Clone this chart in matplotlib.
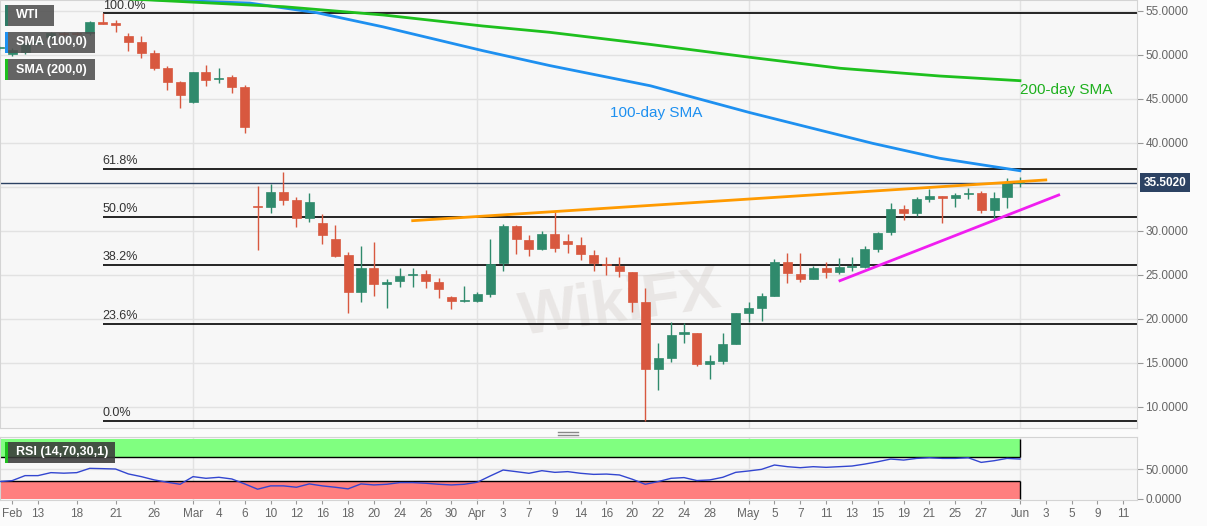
import matplotlib
matplotlib.use('Agg')
import matplotlib.pyplot as plt
import matplotlib.transforms as mtransforms
from matplotlib.patches import Rectangle
from matplotlib.lines import Line2D
import numpy as np

plt.rcParams['font.family'] = ['Liberation Sans', 'DejaVu Sans']

# daily WTI candles, Feb 10 .. Jun 1 2020 (trading-day index, Feb 13 = 0)
first_day = -3
opens = [50.75, 50.1, 50.3, 51.4, 52.0, 52.45, 52.45, 52.5, 53.8, 53.55,
         52.16, 51.5, 50.26, 48.48, 46.9, 44.7, 48.03, 47.25, 47.47, 46.4,
         32.85, 32.76, 34.4, 33.5, 31.5, 30.87, 29.07, 27.27, 23.03, 25.83,
         23.97, 24.3, 24.95, 25.08, 24.24, 22.46, 22.0, 22.08, 22.84, 26.33,
         30.6, 28.98, 27.9, 29.7, 28.86, 28.4, 27.27, 26.2, 26.02, 25.3,
         21.9, 14.28, 15.6, 18.3, 18.45, 14.9, 15.23, 17.16, 20.65, 21.2,
         22.65, 26.5, 25.08, 24.55, 25.76, 25.3, 25.9, 25.95, 27.95, 29.85,
         32.47, 32.0, 33.64, 34.0, 33.7, 34.17, 34.35, 32.4, 33.83, 35.45]
highs = [51.0, 50.8, 51.5, 51.9, 52.6, 52.6, 52.6, 53.9, 54.74, 54.0,
         52.5, 52.16, 50.57, 48.75, 47.08, 48.1, 48.86, 48.5, 47.7, 46.6,
         35.1, 35.3, 36.67, 33.9, 34.28, 31.9, 30.7, 27.65, 28.3, 28.7,
         24.5, 25.76, 25.8, 25.6, 24.6, 22.65, 23.8, 23.1, 29.06, 30.8,
         30.68, 29.6, 30.0, 32.2, 29.7, 29.26, 27.8, 27.0, 27.0, 25.3,
         23.5, 17.24, 19.6, 19.5, 18.45, 15.9, 18.37, 20.65, 21.97, 22.9,
         26.78, 27.45, 27.5, 26.05, 26.5, 26.9, 27.0, 28.3, 29.9, 33.15,
         33.0, 33.9, 34.74, 34.0, 34.35, 34.9, 34.5, 34.4, 35.99, 36.1]
lows = [50.6, 49.9, 50.1, 51.2, 51.8, 52.2, 52.2, 52.27, 53.5, 52.6,
        50.5, 49.7, 48.3, 46.0, 43.94, 44.5, 46.48, 46.8, 45.7, 41.17,
        27.8, 32.08, 32.95, 30.5, 31.06, 28.5, 27.1, 20.65, 21.9, 22.65,
        21.2, 23.67, 23.67, 23.5, 22.35, 21.1, 21.97, 21.9, 22.5, 25.5,
        27.35, 27.16, 27.8, 27.6, 27.46, 26.7, 25.5, 25.0, 24.8, 20.8,
        8.45, 11.93, 15.15, 17.3, 14.6, 13.15, 14.85, 17.16, 19.6, 19.8,
        22.65, 24.06, 24.17, 24.55, 24.7, 25.08, 25.4, 25.76, 27.65, 29.6,
        31.25, 31.75, 33.33, 30.87, 32.7, 33.6, 32.0, 31.33, 32.58, 34.97]
closes = [50.85, 50.6, 51.4, 51.6, 52.5, 52.35, 52.35, 53.8, 53.55, 53.45,
          51.5, 50.26, 48.48, 46.97, 45.4, 48.1, 47.16, 47.4, 46.4, 41.8,
          32.7, 34.4, 33.5, 31.5, 33.33, 29.55, 27.16, 23.03, 25.83, 23.94,
          24.2, 24.9, 25.1, 24.3, 23.38, 22.08, 22.1, 22.84, 26.2, 30.6,
          29.06, 27.9, 29.7, 28.1, 28.5, 27.35, 26.33, 26.1, 25.5, 21.9,
          14.28, 15.6, 18.18, 18.5, 14.9, 15.23, 17.1, 20.65, 21.2, 22.65,
          26.5, 25.2, 24.55, 25.76, 25.3, 25.87, 26.0, 27.95, 29.8, 32.47,
          32.0, 33.64, 34.0, 33.7, 34.1, 34.35, 32.4, 33.8, 35.5, 35.5]

rsi = [28.9, 30.5, 38.9, 38.9, 43.9, 43.0, 43.9, 51.1, 50.6, 50.0,
       41.7, 37.2, 31.7, 27.8, 24.4, 37.2, 34.4, 36.1, 33.3, 25.0,
       16.1, 21.7, 21.7, 19.4, 25.0, 21.7, 19.4, 16.7, 25.0, 23.3,
       24.4, 27.2, 27.2, 26.1, 24.4, 23.3, 24.4, 27.8, 38.3, 48.3,
       45.6, 42.8, 47.2, 44.4, 45.6, 42.8, 41.0, 41.5, 40.0, 32.8,
       24.4, 28.9, 34.4, 35.6, 30.6, 31.7, 36.1, 44.4, 46.7, 49.4,
       56.7, 53.9, 52.2, 53.9, 52.8, 53.9, 55.0, 58.3, 62.2, 66.7,
       65.0, 67.8, 68.9, 67.8, 67.8, 68.9, 61.1, 63.9, 67.8, 66.7]

# moving averages (position, value)
sma100_x = [0, 8.7, 16.4, 21.6, 26.7, 34.4, 39.6, 47.4, 55.1, 64.6, 69.8, 76]
sma100_y = [57.2, 56.3, 55.9, 54.8, 53.2, 50.5, 48.8, 46.5, 43.45, 39.96, 38.26, 36.85]
sma200_x = [0, 8.7, 19, 26.7, 34.4, 39.6, 47.4, 55.1, 62.1, 69.8, 76]
sma200_y = [56.9, 56.25, 55.49, 54.55, 53.3, 52.58, 51.2, 49.74, 48.49, 47.61, 47.08]

# trend lines
resist_x = [29.0, 78.0]
resist_y = [31.17, 35.8]
support_x = [62.07, 79.0]
support_y = [24.35, 34.09]

fib_labels = ['100.0%', '61.8%', '50.0%', '38.2%', '23.6%', '0.0%']
fib_levels = [54.74, 37.10, 31.62, 26.17, 19.40, 8.41]
last_price = 35.502

price_ticks = [10, 15, 20, 25, 30, 40, 45, 50, 55]
tick_pos = [-2, 0, 3, 6, 9, 12, 14, 16, 18, 20, 22, 24, 26, 28, 30, 32, 34, 36,
            38, 40, 42, 44, 46, 48, 50, 52, 55, 57, 59, 61, 63, 65, 67, 69, 71,
            73, 76, 78, 80, 82, 84]
tick_lab = ['Feb', '13', '18', '21', '26', 'Mar', '4', '6', '10', '12', '16',
            '18', '20', '24', '26', '30', 'Apr', '3', '7', '9', '14', '16', '20',
            '22', '24', '28', 'May', '5', '7', '11', '13', '15', '19', '21', '25',
            '27', 'Jun', '3', '5', '9', '11']
month_pos = [12, 34, 55, 76]

W, H = 1207, 526
fig = plt.figure(figsize=(W / 100, H / 100), dpi=100, facecolor='#fbfbfb')


def fx(px):
    return px / W


def fy(py):
    return 1 - py / H


ax = fig.add_axes([0, fy(428), fx(1137), 428 / H])
ax2 = fig.add_axes([0, fy(500), fx(1137), 63 / H], sharex=ax)
xmin, xmax = -2.94, 85.06

for a in (ax, ax2):
    a.set_facecolor('#f7f7f7')
    for s in a.spines.values():
        s.set_color('#d4d4d4')
    for m in month_pos:
        a.axvline(m, color='#e2e2e2', lw=1, zorder=0)

# ---- main panel
ax.set_xlim(xmin, xmax)
ax.set_ylim(7.61, 56.25)
for v in range(10, 60, 5):
    ax.axhline(v, color='#e2e2e2', lw=1, zorder=0)

days = np.arange(first_day, first_day + len(opens))
o = np.array(opens)
c = np.array(closes)
up = c >= o
col = np.where(up, '#2f8a6c', '#d8583f')
ax.vlines(days, lows, highs, colors=col, lw=1.0, zorder=3)
body = np.maximum(np.abs(c - o), 0.15)
ax.bar(days, body, bottom=np.minimum(o, c), width=0.7, color=col,
       edgecolor=col, lw=0.5, zorder=4)

for lab, lv in zip(fib_labels, fib_levels):
    ax.hlines(lv, 5.0, xmax, color='black', lw=1.2, zorder=2)
    ax.text(5.0, lv + 0.2, lab, fontsize=9, color='#333333', va='bottom', ha='left')

ax.plot(sma100_x, sma100_y, color='#1e90f0', lw=2, zorder=5)
ax.plot(sma200_x, sma200_y, color='#1ec01e', lw=2, zorder=5)
ax.plot(resist_x, resist_y, color='#ff9a00', lw=2, zorder=5)
ax.plot(support_x, support_y, color='#f01ef0', lw=2, zorder=5)
ax.axhline(last_price, color='#2c4263', lw=1, zorder=2)

ax.text(44.3, 43.44, '100-day SMA', color='#1e90f0', fontsize=11, va='center')
ax.text(76.0, 46.02, '200-day SMA', color='#1eb01e', fontsize=11, va='center')

# faint watermark
ax.text(37, 21.5, 'WikiFX', fontsize=44, fontweight='bold', color='#d9d3cf',
        alpha=0.45, rotation=8, va='center', ha='left', zorder=1)

ax.yaxis.tick_right()
ax.set_yticks(price_ticks)
ax.set_yticklabels(['%.4f' % v for v in price_ticks])
ax.tick_params(axis='y', colors='#999999', labelcolor='#666666', labelsize=8.5,
               length=4, pad=2)
ax.tick_params(axis='x', bottom=False, labelbottom=False)

trans = mtransforms.blended_transform_factory(ax.transAxes, ax.transData)
ax.text(1.006, last_price, '35.5020', transform=trans, fontsize=8.5,
        fontweight='bold', color='white', va='center', ha='left',
        bbox=dict(boxstyle='square,pad=0.3', fc='#2c4263', ec='none'))

# ---- RSI panel
ax2.set_ylim(-2, 103.7)
ax2.axhline(50, color='#e2e2e2', lw=1, zorder=0)
ax2.fill_between([xmin, 76], 70, 100, color='#80ff80', zorder=1, lw=0)
ax2.fill_between([xmin, 76], 0, 30, color='#ff7f7f', zorder=1, lw=0)
ax2.hlines([70, 30], xmin, 76, color='black', lw=1, zorder=2)
ax2.vlines(76, 70, 100, color='black', lw=1, zorder=2)
ax2.vlines(76, 0, 30, color='black', lw=1, zorder=2)
ax2.plot(days, rsi, color='#3346d0', lw=1, zorder=3)

ax2.yaxis.tick_right()
ax2.set_yticks([0, 50])
ax2.set_yticklabels(['0.0000', '50.0000'])
ax2.tick_params(axis='y', colors='#999999', labelcolor='#666666', labelsize=8.5,
                length=4, pad=2)
ax2.set_xticks(tick_pos)
ax2.set_xticklabels(tick_lab)
ax2.tick_params(axis='x', colors='#999999', labelcolor='#666666', labelsize=8.5,
                length=3, pad=3)


# ---- label boxes
def label_box(x0, y0, x1, y1, text, stripe, fc='#505050'):
    fig.add_artist(Rectangle((fx(x0), fy(y1)), fx(x1 - x0), (y1 - y0) / H,
                             transform=fig.transFigure, fc=fc, ec='none',
                             alpha=0.88, zorder=10))
    fig.add_artist(Rectangle((fx(x0), fy(y1)), fx(3), (y1 - y0) / H,
                             transform=fig.transFigure, fc=stripe, ec='none',
                             zorder=11))
    fig.text(fx(x0 + 11), fy((y0 + y1) / 2), text, color='white', fontsize=9,
             fontweight='bold', va='center', ha='left', zorder=12)


label_box(5, 5, 54, 26, 'WTI', '#2f7a66')
label_box(5, 32, 95, 53, 'SMA (100,0)', '#1e90f0')
label_box(5, 59, 95, 80, 'SMA (200,0)', '#1ec01e')
label_box(5, 442, 115, 463, 'RSI (14,70,30,1)', '#1ec01e', fc='#3a3a3a')

# panel separator handle
for yy in (432, 435):
    fig.add_artist(Line2D([fx(558), fx(578)], [fy(yy), fy(yy)], color='#888888',
                          lw=1, transform=fig.transFigure))

fig.savefig('out.png', dpi=100, facecolor=fig.get_facecolor())
